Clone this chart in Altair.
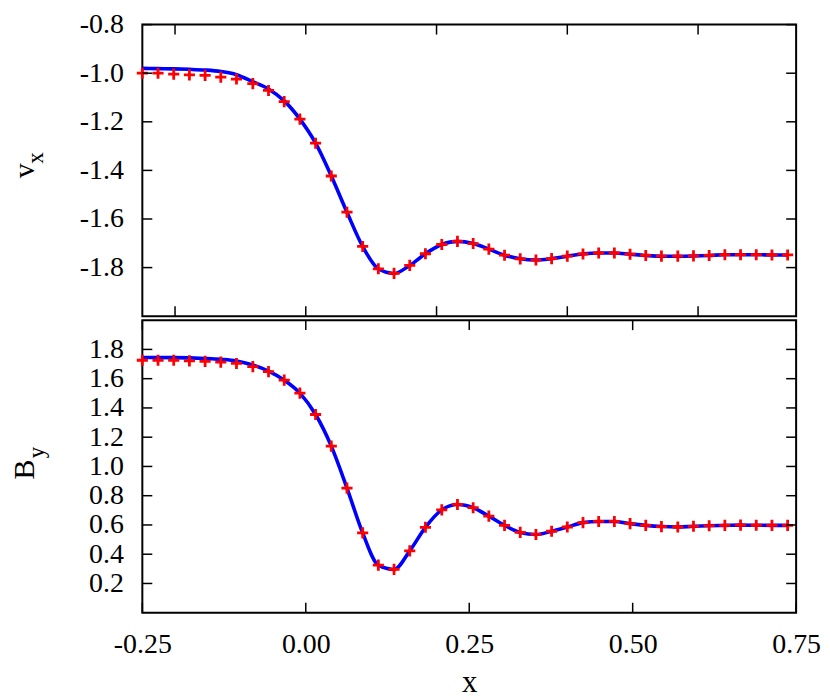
import altair as alt
import pandas as pd

# ---- data ----
x_pts = [-0.250, -0.226, -0.202, -0.178, -0.154, -0.130, -0.106, -0.081, -0.057, -0.033,
         -0.009, 0.015, 0.039, 0.063, 0.087, 0.111, 0.135, 0.159, 0.183, 0.208,
         0.232, 0.256, 0.280, 0.304, 0.328, 0.352, 0.376, 0.400, 0.424, 0.448,
         0.472, 0.496, 0.520, 0.544, 0.569, 0.593, 0.617, 0.641, 0.665, 0.689,
         0.713, 0.737]

vx_pts = [-1.000, -1.000, -1.004, -1.007, -1.009, -1.016, -1.024, -1.043, -1.071, -1.117,
          -1.189, -1.288, -1.423, -1.572, -1.713, -1.805, -1.824, -1.791, -1.743, -1.705,
          -1.692, -1.701, -1.724, -1.749, -1.764, -1.769, -1.763, -1.753, -1.744, -1.740,
          -1.740, -1.745, -1.750, -1.753, -1.753, -1.752, -1.750, -1.747, -1.747, -1.747,
          -1.748, -1.748]

vx_line = [-0.980, -0.981, -0.982, -0.984, -0.987, -0.993, -1.006, -1.035, -1.065, -1.114,
           -1.189, -1.288, -1.423, -1.572, -1.713, -1.805, -1.824, -1.791, -1.743, -1.705,
           -1.692, -1.701, -1.724, -1.749, -1.764, -1.769, -1.763, -1.753, -1.744, -1.740,
           -1.740, -1.745, -1.750, -1.753, -1.753, -1.752, -1.750, -1.747, -1.747, -1.747,
           -1.748, -1.748]

by_pts = [1.726, 1.726, 1.726, 1.722, 1.718, 1.713, 1.704, 1.682, 1.648, 1.590,
          1.501, 1.355, 1.139, 0.852, 0.546, 0.325, 0.296, 0.423, 0.584, 0.703,
          0.740, 0.718, 0.660, 0.597, 0.549, 0.535, 0.557, 0.586, 0.616, 0.624,
          0.624, 0.609, 0.597, 0.589, 0.586, 0.591, 0.595, 0.597, 0.599, 0.598,
          0.597, 0.597]

by_line = [1.745, 1.745, 1.744, 1.742, 1.738, 1.732, 1.721, 1.693, 1.652, 1.590,
           1.501, 1.355, 1.139, 0.852, 0.546, 0.325, 0.296, 0.423, 0.584, 0.703,
           0.740, 0.718, 0.660, 0.597, 0.549, 0.535, 0.557, 0.586, 0.616, 0.624,
           0.624, 0.609, 0.597, 0.589, 0.586, 0.591, 0.595, 0.597, 0.599, 0.598,
           0.597, 0.597]

top_xticks = [-0.2, 0.0, 0.2, 0.4, 0.6]
bot_xticks = [-0.25, 0.0, 0.25, 0.5, 0.75]
vx_ticks = [-1.8, -1.6, -1.4, -1.2, -1.0, -0.8]
by_ticks = [0.2, 0.4, 0.6, 0.8, 1.0, 1.2, 1.4, 1.6, 1.8]

# ---- styling ----
W = 657
H_TOP = 293
H_BOT = 294
FONT = "Liberation Serif"
TICK = 10

xs = alt.Scale(domain=[-0.25, 0.75], nice=False, zero=False)
ys_top = alt.Scale(domain=[-2.0, -0.8], nice=False, zero=False)
ys_bot = alt.Scale(domain=[0.0, 2.0], nice=False, zero=False)

PLUS = "M-1,0H1M0,-1V1"


def panel(pts, ln, yscale, yticks, xticks, H, show_x, main, sub, main_pos, sub_pos):
    df = pd.DataFrame({"x": x_pts, "pt": pts, "ln": ln})
    base = alt.Chart(df)
    yaxis = alt.Axis(values=yticks,
                     labelExpr="replace(format(datum.value, '.1f'), '\u2212', '-')",
                     tickSize=0, domain=False, grid=False, labelFont=FONT, labelFontSize=28,
                     labelPadding=19, labelColor="black", labelFlush=False, title=None)
    if show_x:
        xaxis = alt.Axis(values=bot_xticks,
                         labelExpr="replace(format(datum.value, '.2f'), '\u2212', '-')",
                         tickSize=0, domain=False, grid=False, labelFont=FONT,
                         labelFontSize=28, labelPadding=18, labelColor="black",
                         labelFlush=False,
                         title="x", titleFont=FONT, titleFontSize=31,
                         titleFontWeight="normal", titleColor="black", titlePadding=9)
    else:
        xaxis = None

    def X(field):
        return alt.X(field, scale=xs, axis=xaxis)

    def Y(field):
        return alt.Y(field, scale=yscale, axis=yaxis)

    line = base.mark_line(color="#0000ff", strokeWidth=3.6, interpolate="monotone").encode(
        x=X("x:Q"), y=Y("ln:Q"))
    points = base.mark_point(shape=PLUS, filled=False, color="#ff0000", strokeWidth=2.8,
                             size=125, opacity=1).encode(x=X("x:Q"), y=Y("pt:Q"))

    ydf = pd.DataFrame({"v": yticks})
    xdf = pd.DataFrame({"t": xticks})
    rule = dict(color="black", strokeWidth=1.5)
    ytl = alt.Chart(ydf).mark_rule(**rule).encode(
        y=Y("v:Q"), x=alt.value(0), x2=alt.value(TICK))
    ytr = alt.Chart(ydf).mark_rule(**rule).encode(
        y=Y("v:Q"), x=alt.value(W - TICK), x2=alt.value(W))
    xtb = alt.Chart(xdf).mark_rule(**rule).encode(
        x=X("t:Q"), y=alt.value(H - TICK), y2=alt.value(H))
    xtt = alt.Chart(xdf).mark_rule(**rule).encode(
        x=X("t:Q"), y=alt.value(0), y2=alt.value(TICK))

    one = pd.DataFrame({"a": [0]})
    tmain = alt.Chart(one).mark_text(text=main, font=FONT, fontSize=30, angle=270,
                                     align="center", baseline="alphabetic",
                                     color="black").encode(
        x=alt.value(main_pos[0]), y=alt.value(main_pos[1]))
    tsub = alt.Chart(one).mark_text(text=sub, font=FONT, fontSize=23, angle=270,
                                    align="center", baseline="alphabetic",
                                    color="black").encode(
        x=alt.value(sub_pos[0]), y=alt.value(sub_pos[1]))

    return alt.layer(line, points, ytl, ytr, xtb, xtt, tmain, tsub).properties(
        width=W, height=H)


top = panel(vx_pts, vx_line, ys_top, vx_ticks, top_xticks, H_TOP, False,
            "v", "x", (-109, 147), (-100, 134))
bottom = panel(by_pts, by_line, ys_bot, by_ticks, bot_xticks, H_BOT, True,
               "B", "y", (-109, 150), (-99, 133))

chart = alt.vconcat(top, bottom, spacing=0).properties(
    padding={"left": 1, "top": 0, "right": 0, "bottom": 0}
).configure_view(stroke="black", strokeWidth=2)

chart.save("out.html", embed_options={"renderer": "svg", "actions": False})
